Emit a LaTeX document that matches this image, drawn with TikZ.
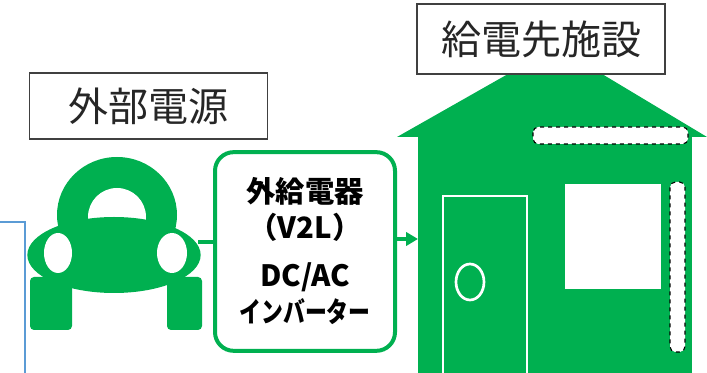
\documentclass[tikz,border=0pt]{standalone}
\usepackage{fontspec}
\usetikzlibrary{shapes.geometric,arrows.meta}
\newfontfamily\jp{Noto Sans CJK JP}
\definecolor{evgreen}{HTML}{00B050}
\definecolor{leadblue}{HTML}{5B9BD5}
\tikzset{
  namebox/.style={draw=black!75,fill=white,line width=0.8pt,inner sep=0pt,outer sep=0pt,text=black!85,font=\jp\fontsize{30}{30}\selectfont},
  strip/.style={fill=white,draw=black,dashed,line width=0.8pt,rounded corners=4pt},
  feed/.style={evgreen,line width=2.5pt},
}

\begin{document}
\begin{tikzpicture}[x=0.75pt,y=-0.75pt]%
                \useasboundingbox (0,0) rectangle (707,373);

                % blue lead at the left edge
                \draw[leadblue,line width=1.2pt] (0,222) -- (25,222) -- (25,373);

                % car
                \fill[evgreen] (117,215) ellipse [x radius=60, y radius=58];
                \fill[white] (117,217) ellipse [x radius=29, y radius=29];
                \node[ellipse,fill=evgreen,minimum width=130pt,minimum height=57pt,inner sep=0pt] (car) at (114,255) {};
                \fill[evgreen,rounded corners=3pt] (30,277) rectangle (72,330);
                \fill[evgreen,rounded corners=3pt] (167,277) rectangle (202,330);
                \fill[white] (58,253) ellipse [x radius=14, y radius=20];
                \fill[white] (172,253) ellipse [x radius=15, y radius=20];
                \node[namebox,minimum width=179pt,minimum height=49.5pt] (source) at (148.5,106) {外部電源};

                % inverter box
                \node[draw=evgreen,line width=3pt,rounded corners=14pt,minimum width=135pt,minimum height=149pt,inner sep=0pt,align=center,font=\jp\bfseries\fontsize{22}{27}\selectfont] (v2l) at (305,251.5) {外給電器\\（V2L）\\[9pt]DC/AC\\\scalebox{0.78}[1]{\fontsize{21}{27}\selectfont インバーター}};

                % house
                \fill[evgreen] (397,137) -- (508,74) -- (602,74) -- (707,137) -- cycle;
                \node[fill=evgreen,minimum width=205.5pt,minimum height=178.5pt,inner sep=0pt,outer sep=0pt] (house) at (555,256) {};
                \draw[white,line width=2pt,fill=evgreen] (443,196) rectangle (527,380);
                \draw[white,line width=2pt] (470,282) ellipse [x radius=14, y radius=18];
                \fill[white] (565,184) rectangle (661,289);
                \draw[strip] (533,127) rectangle (688,144);
                \draw[strip] (670,182) rectangle (685,352);
                \node[namebox,minimum width=186pt,minimum height=52.5pt] (facility) at (541,39) {給電先施設};

                \coordinate (carside) at (198,242);
                \path [feed] (carside) edge (carside -| v2l.west);
                \path [feed,-{Triangle[length=9pt,width=10pt]}] (v2l.east |- 0,239) edge (house.west |- 0,239);
            \end{tikzpicture}
\end{document}
